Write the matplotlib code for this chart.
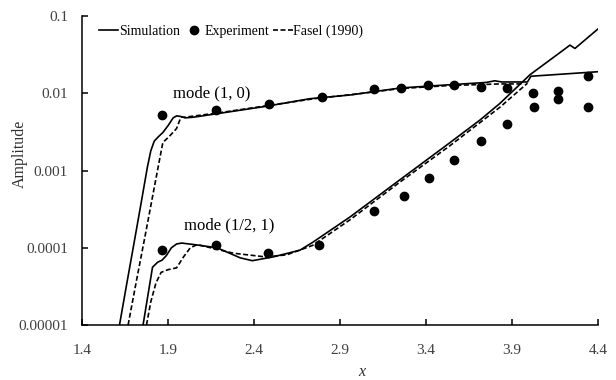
import matplotlib
matplotlib.use("Agg")
import matplotlib.pyplot as plt
from matplotlib.lines import Line2D

plt.rcParams['font.family'] = ['Liberation Serif', 'DejaVu Serif']

# simulation, mode (1, 0)
sim10_x = [1.618, 1.66, 1.70, 1.74, 1.78, 1.80, 1.82, 1.845, 1.87, 1.90, 1.93, 1.95,
           1.975, 2.0, 2.05, 2.2, 2.475, 2.725, 2.96, 3.25, 3.54, 3.75, 3.80, 3.84,
           3.99, 4.01, 4.4]
sim10_a = [1e-5, 3.4e-5, 1.07e-4, 3.4e-4, 1.1e-3, 1.8e-3, 2.4e-3, 2.75e-3, 3.1e-3,
           3.8e-3, 4.8e-3, 5.1e-3, 5.0e-3, 4.8e-3, 4.9e-3, 5.5e-3, 6.8e-3, 8.5e-3,
           9.5e-3, 0.0117, 0.0129, 0.0138, 0.0145, 0.0140, 0.0140, 0.0166, 0.0190]

# Fasel (1990), mode (1, 0)
fas10_x = [1.668, 1.72, 1.77, 1.82, 1.85, 1.87, 1.91, 1.95, 1.975, 2.0, 2.2, 2.475,
           2.75, 3.0, 3.25, 3.54, 3.83, 3.97]
fas10_a = [1e-5, 4.1e-5, 1.55e-4, 6.0e-4, 1.35e-3, 2.3e-3, 2.8e-3, 3.5e-3, 4.9e-3,
           4.9e-3, 5.6e-3, 6.9e-3, 8.5e-3, 9.8e-3, 0.0115, 0.0126, 0.0132, 0.0132]

# simulation, mode (1/2, 1)
simh1_x = [1.755, 1.77, 1.79, 1.81, 1.84, 1.865, 1.89, 1.92, 1.95, 1.98, 2.05, 2.185,
           2.32, 2.39, 2.51, 2.667, 2.74, 2.958, 3.249, 3.54, 3.714, 3.83, 4.005,
           4.197, 4.237, 4.266, 4.4]
simh1_a = [1e-5, 1.6e-5, 3.0e-5, 5.6e-5, 6.5e-5, 6.9e-5, 7.9e-5, 1.0e-4, 1.12e-4,
           1.15e-4, 1.1e-4, 1.0e-4, 7.4e-5, 6.8e-5, 7.6e-5, 9.3e-5, 1.17e-4, 2.5e-4,
           7.6e-4, 2.3e-3, 4.5e-3, 7.4e-3, 0.0174, 0.036, 0.042, 0.038, 0.068]

# Fasel (1990), mode (1/2, 1)
fash1_x = [1.775, 1.80, 1.83, 1.86, 1.90, 1.95, 1.99, 2.03, 2.07, 2.28, 2.47, 2.59,
           2.74, 2.958, 3.249, 3.54, 3.83, 3.99]
fash1_a = [1e-5, 2.0e-5, 3.5e-5, 4.8e-5, 5.2e-5, 5.5e-5, 7.6e-5, 1.0e-4, 1.1e-4,
           8.5e-5, 7.6e-5, 8.1e-5, 1.07e-4, 2.3e-4, 7.1e-4, 2.1e-3, 6.6e-3, 0.0135]

# experiment
exp10_x = [1.865, 2.18, 2.49, 2.795, 3.10, 3.255, 3.41, 3.56, 3.72, 3.87, 4.02, 4.17, 4.34]
exp10_a = [0.0052, 0.0061, 0.0072, 0.0089, 0.0112, 0.0117, 0.0128, 0.0128, 0.0121,
           0.0117, 0.0100, 0.0107, 0.0167]
exph1_x = [1.865, 2.18, 2.48, 2.78, 3.10, 3.27, 3.42, 3.56, 3.72, 3.87, 4.03, 4.17, 4.34]
exph1_a = [9.3e-5, 1.08e-4, 8.5e-5, 1.08e-4, 3.0e-4, 4.7e-4, 7.9e-4, 1.38e-3, 2.4e-3,
           4.0e-3, 6.6e-3, 8.5e-3, 6.6e-3]

xticks = [1.4, 1.9, 2.4, 2.9, 3.4, 3.9, 4.4]
yticks = [1e-5, 1e-4, 1e-3, 1e-2, 1e-1]
ylabels = ['0.00001', '0.0001', '0.001', '0.01', '0.1']

fig = plt.figure(figsize=(6.16, 3.8), dpi=100)
ax = fig.add_axes([82/616, 1-325/380, 516/616, 309/380])

lw = 1.2
dash = (0, (3, 1.5))
ax.plot(sim10_x, sim10_a, color='black', lw=lw)
ax.plot(simh1_x, simh1_a, color='black', lw=lw)
ax.plot(fas10_x, fas10_a, color='black', lw=lw, ls=dash)
ax.plot(fash1_x, fash1_a, color='black', lw=lw, ls=dash)
ax.plot(exp10_x, exp10_a, 'o', color='black', ms=6)
ax.plot(exph1_x, exph1_a, 'o', color='black', ms=6)

ax.set_yscale('log')
ax.set_xlim(1.4, 4.4)
ax.set_ylim(1e-5, 0.1)
ax.set_xticks(xticks)
ax.set_xticklabels([str(t) for t in xticks])
ax.set_yticks(yticks)
ax.set_yticklabels(ylabels)
ax.minorticks_off()
for s in ['top', 'right']:
    ax.spines[s].set_visible(False)
for s in ['left', 'bottom']:
    ax.spines[s].set_linewidth(1.1)
ax.tick_params(axis='x', direction='in', length=4, width=1.1, pad=14,
               labelsize=11, labelcolor='#404040')
ax.tick_params(axis='y', direction='in', length=4, width=1.1, pad=10,
               labelsize=11, labelcolor='#404040')

# mode labels
fig.text(173/616, 1-93/380, 'mode (1, 0)', fontsize=12, va='center')
fig.text(184/616, 1-225/380, 'mode (1/2, 1)', fontsize=12, va='center')

fig.text(20/616, 1-154/380, 'Amplitude', rotation=90, fontsize=11.5,
         ha='center', va='center', color='#303030')
fig.text(362/616, 1-372/380, 'x', style='italic', fontsize=11.5,
         ha='center', va='center', color='#303030')

handles = [Line2D([], [], color='black', lw=lw),
           Line2D([], [], color='black', marker='o', ls='none', ms=6),
           Line2D([], [], color='black', lw=lw, ls=dash)]
fig.legend(handles, ['Simulation', 'Experiment', 'Fasel (1990)'], ncol=3,
           loc='center', bbox_to_anchor=(231/616, 1-31/380), frameon=False,
           fontsize=10, handlelength=1.4, handletextpad=0.05, columnspacing=0.3,
           borderpad=0)

fig.savefig('out.png', dpi=100)
